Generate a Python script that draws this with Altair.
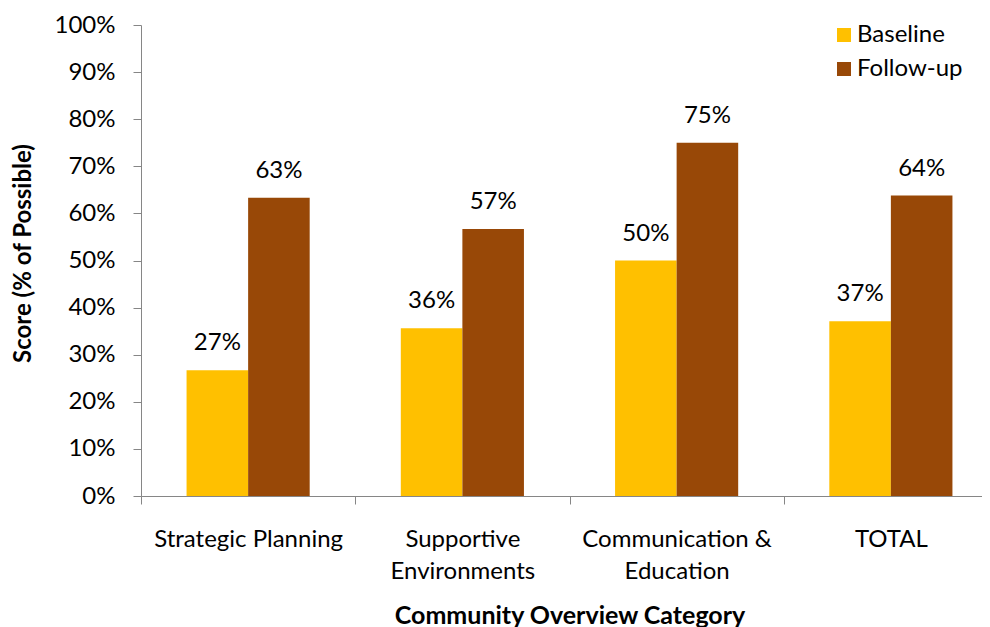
import altair as alt
import pandas as pd

categories = ["Strategic Planning", "Supportive Environments", "Communication & Education", "TOTAL"]
baseline = [0.267, 0.356, 0.500, 0.371]
follow_up = [0.633, 0.567, 0.750, 0.638]
series = ["Baseline", "Follow-up"]
colors = ["#FFC000", "#984807"]
y_ticks = [0.0, 0.1, 0.2, 0.3, 0.4, 0.5, 0.6, 0.7, 0.8, 0.9, 1.0]
label_lines = {
    "Supportive Environments": ["Supportive", "Environments"],
    "Communication & Education": ["Communication &", "Education"],
}

rows = []
for c, b, f in zip(categories, baseline, follow_up):
    rows.append({"category": c, "series": series[0], "value": b})
    rows.append({"category": c, "series": series[1], "value": f})
df = pd.DataFrame(rows)

FONT = "Lato"
AXIS_GRAY = "#868686"

expr = "datum.label"
for k, v in label_lines.items():
    arr = "[" + ",".join("'" + s + "'" for s in v) + "]"
    expr = f"datum.label == '{k}' ? {arr} : ({expr})"

x_enc = alt.X(
    "category:N",
    sort=categories,
    scale=alt.Scale(paddingInner=0, paddingOuter=0),
    axis=alt.Axis(
        title="Community Overview Category",
        tickBand="extent",
        labelExpr=expr,
        labelAngle=0,
        labelLimit=0,
        labelFont=FONT,
        labelFontSize=24,
        labelLineHeight=32,
        labelBaseline="top",
        labelPadding=23,
        labelColor="black",
        tickSize=8,
        tickColor=AXIS_GRAY,
        domainColor=AXIS_GRAY,
        titleFont=FONT,
        titleFontSize=25,
        titleFontWeight="bold",
        titleColor="black",
        titleX=428.5,
        titleY=127,
        titleBaseline="alphabetic",
        titleAlign="center",
    ),
)
xoff_enc = alt.XOffset("series:N", sort=series, scale=alt.Scale(paddingInner=0, paddingOuter=0.74))
y_enc = alt.Y(
    "value:Q",
    scale=alt.Scale(domain=[0, 1], nice=False),
    axis=alt.Axis(
        values=y_ticks,
        format=".0%",
        grid=False,
        tickSize=8,
        tickColor=AXIS_GRAY,
        domainColor=AXIS_GRAY,
        labelPadding=18,
        labelFont=FONT,
        labelFontSize=24,
        labelColor="black",
        title="Score (% of Possible)",
        titleFont=FONT,
        titleFontSize=24,
        titleFontWeight="bold",
        titleColor="black",
        titleAngle=270,
        titleX=-118,
        titleY=228,
        titleAlign="center",
        titleBaseline="middle",
    ),
)

bars = alt.Chart(df).mark_bar().encode(
    x=x_enc,
    xOffset=xoff_enc,
    y=y_enc,
    color=alt.Color(
        "series:N",
        scale=alt.Scale(domain=series, range=colors),
        legend=alt.Legend(
            title=None,
            orient="none",
            legendX=691,
            legendY=-2,
            symbolType="square",
            symbolSize=196,
            symbolStrokeWidth=0,
            labelFont=FONT,
            labelFontSize=24,
            labelColor="black",
            labelOffset=1,
            rowPadding=10,
            padding=0,
        ),
    ),
)

labels = alt.Chart(df).mark_text(dy=-27, baseline="middle", font=FONT, fontSize=24, color="black").encode(
    x=alt.X("category:N", sort=categories),
    xOffset=alt.XOffset("series:N", sort=series),
    y=alt.Y("value:Q"),
    text=alt.Text("value:Q", format=".0%"),
)

chart = (
    alt.layer(bars, labels)
    .properties(
        width=857,
        height=471,
        autosize=alt.AutoSizeParams(type="none"),
        padding={"left": 133, "top": 17, "right": -16, "bottom": 131},
    )
    .configure_view(stroke=None)
)

chart.save("out.html", embed_options={"renderer": "svg", "actions": False})
